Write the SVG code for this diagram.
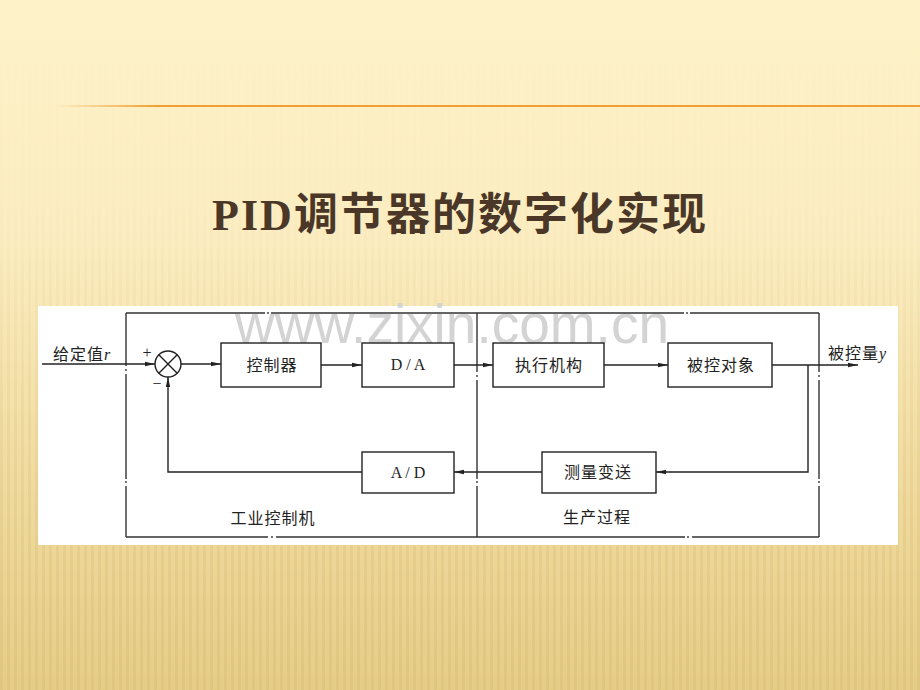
<svg xmlns="http://www.w3.org/2000/svg" width="920" height="690" viewBox="0 0 920 690">
<defs>
<linearGradient id="bg" x1="0" y1="0" x2="0" y2="1">
<stop offset="0" stop-color="#FEF2C9"/>
<stop offset="0.35" stop-color="#FBEDC1"/>
<stop offset="0.7" stop-color="#F0DBA0"/>
<stop offset="1" stop-color="#E5CC88"/>
</linearGradient>
<linearGradient id="orange" x1="0" y1="0" x2="1" y2="0">
<stop offset="0" stop-color="#F0A030" stop-opacity="0"/>
<stop offset="0.12" stop-color="#F0A030" stop-opacity="1"/>
<stop offset="1" stop-color="#EFA030"/>
</linearGradient>
<pattern id="stripes" width="7" height="690" patternUnits="userSpaceOnUse">
<rect x="0" y="0" width="3" height="690" fill="#D9BB6E"/>
</pattern>
<linearGradient id="fade" x1="0" y1="0" x2="0" y2="1">
<stop offset="0" stop-color="#fff" stop-opacity="0"/>
<stop offset="0.3" stop-color="#fff" stop-opacity="0.02"/>
<stop offset="0.6" stop-color="#fff" stop-opacity="0.2"/>
<stop offset="1" stop-color="#fff" stop-opacity="0.4"/>
</linearGradient>
<mask id="m"><rect x="0" y="0" width="920" height="690" fill="url(#fade)"/></mask>
<marker id="ah" viewBox="0 0 10 6" refX="10" refY="3" markerWidth="10" markerHeight="6" markerUnits="userSpaceOnUse" orient="auto">
<path d="M0,0.8 L10,3 L0,5.2 Z" fill="#222"/>
</marker>
<style>
.ln{stroke:#222;stroke-width:1.4;fill:none}
.fr{stroke:#333;stroke-width:1.4;fill:none}
.box{stroke:#222;stroke-width:1.4;fill:#fff}
.cj{font-family:"Liberation Serif","Noto Sans CJK SC",serif;font-size:16px;fill:#222;letter-spacing:1px}
.lt{font-family:"Liberation Serif",serif;font-size:16px;fill:#222}
.dot{fill:#333}
</style>
</defs>
<rect x="0" y="0" width="920" height="690" fill="url(#bg)"/>
<rect x="0" y="0" width="920" height="690" fill="url(#stripes)" mask="url(#m)"/>
<rect x="55" y="105" width="865" height="2" fill="url(#orange)"/>
<text x="460" y="230" text-anchor="middle" font-family="Liberation Serif,'Noto Sans CJK SC',serif" font-weight="bold" font-size="44" fill="#4A3728" letter-spacing="2">PID调节器的数字化实现</text>

<rect x="38" y="306" width="860" height="239" fill="#fff"/>
<text x="235" y="343" font-family="Liberation Sans,Arial,sans-serif" font-size="55" fill="#D3D3D3">www.zixin.com.cn</text>

<g id="frame">
<path class="fr" d="M126,313 H265 M271,313 H684 M690,313 H819"/>
<path class="fr" d="M126,537 H268 M276,537 H685 M692,537 H819"/>
<path class="fr" d="M126,313 V366 M126,374 V479 M126,486 V537"/>
<path class="fr" d="M819,313 V372 M819,380 V479 M819,486 V537"/>
<path class="fr" d="M477,313 V372 M477,380 V479 M477,486 V537"/>
<circle class="dot" cx="268" cy="313" r="0.9"/><circle class="dot" cx="687" cy="313" r="0.9"/>
<circle class="dot" cx="272" cy="537" r="0.9"/><circle class="dot" cx="688" cy="537" r="0.9"/>
<circle class="dot" cx="126" cy="370" r="0.9"/><circle class="dot" cx="126" cy="482" r="0.9"/>
<circle class="dot" cx="819" cy="376" r="0.9"/><circle class="dot" cx="819" cy="482" r="0.9"/>
<circle class="dot" cx="477" cy="376" r="0.9"/><circle class="dot" cx="477" cy="482" r="0.9"/>
</g>

<g id="connectors">
<path class="ln" d="M42,364 H155" marker-end="url(#ah)"/>
<path class="ln" d="M181,364 H221" marker-end="url(#ah)"/>
<path class="ln" d="M321,365 H362" marker-end="url(#ah)"/>
<path class="ln" d="M454,365 H493" marker-end="url(#ah)"/>
<path class="ln" d="M604,365 H668" marker-end="url(#ah)"/>
<path class="ln" d="M772,365 H858" marker-end="url(#ah)"/>
<path class="ln" d="M808,365 V472 H656" marker-end="url(#ah)"/>
<path class="ln" d="M542,472 H454" marker-end="url(#ah)"/>
<path class="ln" d="M362,472 H168 V377" marker-end="url(#ah)"/>
</g>

<g id="input-label">
<text class="cj" x="53" y="360">给定值<tspan font-style="italic" font-family="Liberation Serif,serif">r</tspan></text>
</g>
<g id="sum">
<circle cx="168" cy="364" r="13" fill="#fff" stroke="#222" stroke-width="1.4"/>
<path class="ln" d="M158.8,354.8 L177.2,373.2 M177.2,354.8 L158.8,373.2"/>
<text class="lt" x="147" y="358" text-anchor="middle" font-size="14">+</text>
<text class="lt" x="157" y="389" text-anchor="middle" font-size="14">−</text>
</g>
<g id="controller">
<rect class="box" x="221" y="343" width="100" height="44"/>
<text class="cj" x="272" y="371" text-anchor="middle">控制器</text>
</g>
<g id="da">
<rect class="box" x="362" y="343" width="92" height="44"/>
<text class="lt" x="408" y="370" text-anchor="middle" font-size="15">D / A</text>
</g>
<g id="actuator">
<rect class="box" x="493" y="343" width="111" height="44"/>
<text class="cj" x="549" y="371" text-anchor="middle">执行机构</text>
</g>
<g id="plant">
<rect class="box" x="668" y="343" width="104" height="44"/>
<text class="cj" x="721" y="371" text-anchor="middle">被控对象</text>
</g>
<g id="output-label">
<text class="cj" x="828" y="359">被控量<tspan font-style="italic" font-family="Liberation Serif,serif">y</tspan></text>
</g>
<g id="sensor">
<rect class="box" x="542" y="452" width="114" height="41"/>
<text class="cj" x="598" y="478" text-anchor="middle">测量变送</text>
</g>
<g id="ad">
<rect class="box" x="362" y="452" width="92" height="41"/>
<text class="lt" x="408" y="478" text-anchor="middle" font-size="15">A / D</text>
</g>
<g id="labels">
<text class="cj" x="273" y="524" text-anchor="middle">工业控制机</text>
<text class="cj" x="597" y="523" text-anchor="middle">生产过程</text>
</g>
</svg>
